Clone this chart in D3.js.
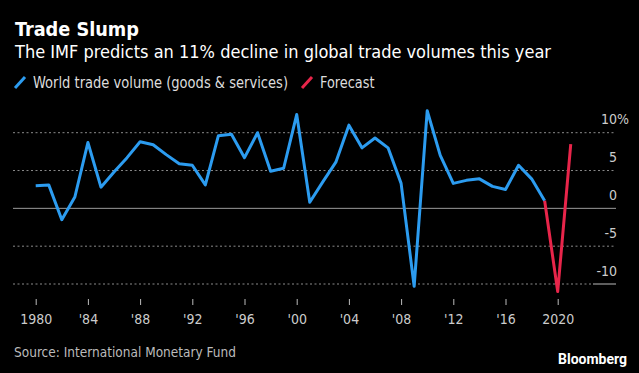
<!DOCTYPE html>
<html>
<head>
<meta charset="utf-8">
<script src="https://cdn.jsdelivr.net/npm/d3@7"></script>
<style>
  body { margin: 0; background: #000; }
  svg { display: block; }
  text { font-family: "Liberation Sans Narrow", "DejaVu Sans Condensed", "Roboto", sans-serif; }
</style>
</head>
<body>
<svg></svg>
<script>
// world trade volume, goods & services, % change
const years = [1980, 1981, 1982, 1983, 1984, 1985, 1986, 1987, 1988, 1989,
	1990, 1991, 1992, 1993, 1994, 1995, 1996, 1997, 1998, 1999,
	2000, 2001, 2002, 2003, 2004, 2005, 2006, 2007, 2008, 2009,
	2010, 2011, 2012, 2013, 2014, 2015, 2016, 2017, 2018, 2019]
const tradeVolume = [3.0, 3.1, -1.5, 1.5, 8.7, 2.8, 4.8, 6.7, 8.8, 8.4,
	7.1, 5.9, 5.7, 3.1, 9.6, 9.8, 6.7, 10.0, 4.9, 5.3,
	12.4, 0.8, 3.5, 6.1, 11.0, 8.0, 9.3, 8.0, 3.3, -10.3,
	12.9, 7.0, 3.3, 3.7, 3.9, 2.9, 2.5, 5.7, 3.9, 1.0]
const forecastYears = [2019, 2020, 2021]
const forecastVolume = [1.0, -11.0, 8.5]

const yTicks = [-10, -5, 0, 5, 10]
const xTicks = [1980, 1984, 1988, 1992, 1996, 2000, 2004, 2008, 2012, 2016, 2020]

const blue = '#2c9cf0'
const red = '#e8254a'

const width = 639
const height = 373

const svg = d3.select('svg')
	.attr('width', width)
	.attr('height', height)

svg.append('rect')
	.attr('width', width)
	.attr('height', height)
	.attr('fill', '#000')

const x = d3.scaleLinear()
	.domain([1980, 2020])
	.range([35.7, 557.7])

const y = d3.scaleLinear()
	.domain([-10, 10])
	.range([284, 132.7])

const gridLeft = 13
const gridRight = 616

// squeeze text to the width it has in the picture
function fit(sel, w) {
	sel.attr('textLength', w).attr('lengthAdjust', 'spacingAndGlyphs')
	return sel
}

// header
fit(svg.append('text')
	.attr('x', 15)
	.attr('y', 36)
	.attr('fill', '#fff')
	.attr('font-size', '19px')
	.attr('font-weight', 700)
	.text('Trade Slump'), 124)

fit(svg.append('text')
	.attr('x', 15)
	.attr('y', 58)
	.attr('fill', '#fff')
	.attr('font-size', '17.5px')
	.text('The IMF predicts an 11% decline in global trade volumes this year'), 536)

// legend
const legend = [
	{label: 'World trade volume (goods & services)', color: blue, x: 15, w: 255},
	{label: 'Forecast', color: red, x: 302, w: 54.5}
]
const lg = svg.append('g')
	.selectAll('g')
	.data(legend)
	.join('g')
		.attr('transform', d => `translate(${d.x}, 88)`)
lg.append('line')
	.attr('x1', 0).attr('y1', 0)
	.attr('x2', 10).attr('y2', -11)
	.attr('stroke', d => d.color)
	.attr('stroke-width', 3)
lg.append('text')
	.attr('x', 18)
	.attr('y', 0)
	.attr('fill', '#ddd')
	.attr('font-size', '15px')
	.text(d => d.label)
	.each(function(d) { fit(d3.select(this), d.w) })

// grid
const grid = svg.append('g')
grid.selectAll('line')
	.data(yTicks)
	.join('line')
		.attr('x1', gridLeft)
		.attr('x2', d => d === -10 ? 593 : gridRight)
		.attr('y1', d => y(d))
		.attr('y2', d => y(d))
		.attr('stroke', d => d === 0 ? '#9a9a9a' : '#8a8a8a')
		.attr('stroke-width', 1)
		.attr('stroke-dasharray', d => d === 0 ? null : '2,2.5')
grid.append('line')
	.attr('x1', 593).attr('x2', gridRight)
	.attr('y1', y(-10)).attr('y2', y(-10))
	.attr('stroke', '#bbb')

grid.selectAll('text')
	.data(yTicks)
	.join('text')
		.attr('x', 617)
		.attr('y', d => y(d) - 8.5)
		.attr('text-anchor', 'end')
		.attr('fill', '#ccc')
		.attr('font-size', '14px')
		.text(d => d)
grid.append('text')
	.attr('x', 617)
	.attr('y', y(10) - 8.5)
	.attr('fill', '#ccc')
	.attr('font-size', '14px')
	.text('%')

// x axis
const xAxis = svg.append('g')
	.attr('transform', 'translate(0, 299)')
	.call(d3.axisBottom(x)
		.tickValues(xTicks)
		.tickSize(6)
		.tickFormat(d => (d === 1980 || d === 2020) ? String(d) : "'" + String(d).slice(2)))
xAxis.select('.domain').remove()
xAxis.selectAll('.tick line').attr('stroke', '#bbb')
xAxis.selectAll('.tick text')
	.attr('y', 25)
	.attr('dy', 0)
	.attr('fill', '#ccc')
	.attr('font-size', '14px')
	.attr('font-family', '"Liberation Sans Narrow", "DejaVu Sans Condensed", "Roboto", sans-serif')

// lines
const line = d3.line()
	.x(d => x(d[0]))
	.y(d => y(d[1]))

svg.append('path')
	.datum(d3.zip(years, tradeVolume))
	.attr('fill', 'none')
	.attr('stroke', blue)
	.attr('stroke-width', 3)
	.attr('stroke-linejoin', 'round')
	.attr('d', line)

svg.append('path')
	.datum(d3.zip(forecastYears, forecastVolume))
	.attr('fill', 'none')
	.attr('stroke', red)
	.attr('stroke-width', 3)
	.attr('stroke-linejoin', 'round')
	.attr('d', line)

// footer
fit(svg.append('text')
	.attr('x', 14)
	.attr('y', 357)
	.attr('fill', '#bbb')
	.attr('font-size', '14px')
	.text('Source: International Monetary Fund'), 222)

fit(svg.append('text')
	.attr('x', 558)
	.attr('y', 364)
	.attr('fill', '#fff')
	.attr('font-size', '14px')
	.attr('font-weight', 700)
	.style('font-family', 'Roboto, "Liberation Sans", sans-serif')
	.text('Bloomberg'), 69)
</script>
</body>
</html>
